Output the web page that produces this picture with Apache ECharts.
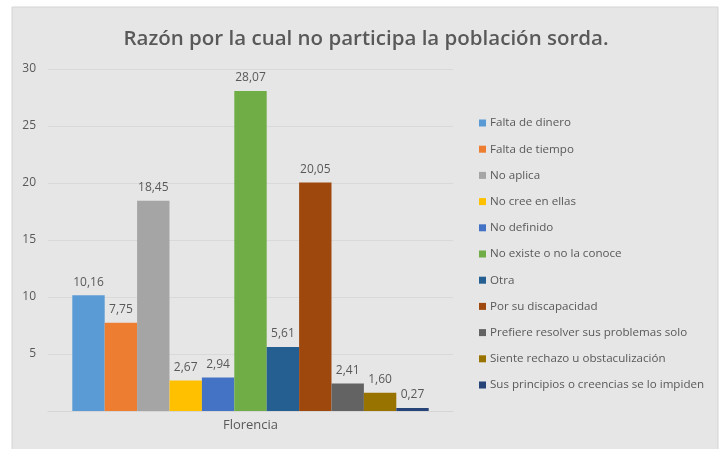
<!DOCTYPE html>
<html>
<head>
<meta charset="utf-8">
<script src="https://cdn.jsdelivr.net/npm/echarts@6/dist/echarts.min.js"></script>
<style>
  html, body { margin: 0; padding: 0; background: #fff; }
  #chart { width: 720px; height: 449px; }
</style>
</head>
<body>
<div id="chart"></div>
<script>
// datos del gráfico
var categorias = ['Florencia'];
var razones = [
  'Falta de dinero',
  'Falta de tiempo',
  'No aplica',
  'No cree en ellas',
  'No definido',
  'No existe o no la conoce',
  'Otra',
  'Por su discapacidad',
  'Prefiere resolver sus problemas solo',
  'Siente rechazo u obstaculización',
  'Sus principios o creencias se lo impiden'
];
var valores = [10.16, 7.75, 18.45, 2.67, 2.94, 28.07, 5.61, 20.05, 2.41, 1.60, 0.27];
var colores = ['#5B9BD5', '#ED7D31', '#A5A5A5', '#FFC000', '#4472C4', '#70AD47',
               '#255E91', '#9E480E', '#636363', '#997300', '#264478'];
var ticksY = [5, 10, 15, 20, 25, 30];

var gris = '#595959';
var fuente = '"Open Sans", "Noto Sans", sans-serif';

var series = razones.map(function (nombre, i) {
  return {
    name: nombre,
    type: 'bar',
    barGap: 0,
    barCategoryGap: '12%',
    data: [valores[i]],
    itemStyle: { color: colores[i] },
    label: {
      show: true,
      position: 'top',
      distance: 7,
      color: gris,
      fontSize: 12,
      fontFamily: fuente,
      formatter: function (p) { return p.value.toFixed(2).replace('.', ',') }
    }
  }
})

var myChart = echarts.init(document.getElementById('chart'), null, { renderer: 'canvas' });
myChart.setOption({
  animation: false,
  backgroundColor: '#fff',
  textStyle: { fontFamily: fuente },
  graphic: [{
    type: 'rect',
    z: -10,
    shape: { x: 12, y: 7, width: 706, height: 443 },
    style: { fill: '#e6e6e6', stroke: '#d4d4d4', lineWidth: 1 }
  }],
  title: {
    text: 'Razón por la cual no participa la población sorda.',
    left: 361,
    textAlign: 'center',
    top: 24,
    textStyle: { color: gris, fontSize: 20.5, fontWeight: 600, fontFamily: fuente }
  },
  legend: {
    orient: 'vertical',
    left: 474,
    top: 111,
    icon: 'rect',
    itemWidth: 7,
    itemHeight: 7,
    itemGap: 12.2,
    textStyle: { color: gris, fontSize: 11.6, lineHeight: 14, fontFamily: fuente, padding: [0, 0, 0, -1] },
    data: razones
  },
  grid: { left: 48, right: 267, top: 69, bottom: 38, containLabel: false },
  xAxis: {
    type: 'category',
    data: categorias,
    axisTick: { show: false },
    axisLine: { lineStyle: { color: '#d6d6d6' } },
    axisLabel: { color: gris, fontSize: 13, margin: 8 }
  },
  yAxis: {
    type: 'value',
    min: 0,
    max: 30,
    interval: 5,
    axisLine: { show: false },
    axisTick: { show: false },
    splitLine: { lineStyle: { color: '#d9d9d9' } },
    axisLabel: {
      color: gris,
      fontSize: 12,
      margin: 12,
      formatter: function (v) { return ticksY.indexOf(v) >= 0 ? String(v) : '' }
    }
  },
  series: series
});
</script>
</body>
</html>
